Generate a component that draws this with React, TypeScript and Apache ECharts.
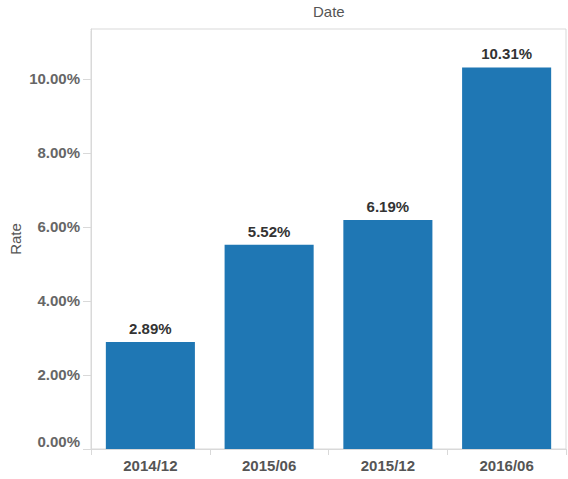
import { useEffect, useRef } from 'react'
import * as echarts from 'echarts'

const categories = ['2014/12', '2015/06', '2015/12', '2016/06']
const rates = [2.89, 5.52, 6.19, 10.31]
const yTicks = [0, 2, 4, 6, 8, 10]
const yMax = 11.35

const FONT = '"Liberation Sans", Arial, sans-serif'
const GRID = '#d9d9d9'

export default function App() {
  const chartRef = useRef<HTMLDivElement>(null)

  useEffect(() => {
    if (!chartRef.current) return
    const chart = echarts.init(chartRef.current, null, { renderer: 'svg' })

    const option = {
      animation: false,
      textStyle: { fontFamily: FONT },
      grid: {
        left: 91,
        top: 29,
        right: 2,
        bottom: 30,
        containLabel: false,
        outerBoundsMode: 'none',
        show: true,
        borderColor: GRID,
        borderWidth: 1,
      },
      graphic: [
        {
          type: 'text',
          left: 313,
          top: 4,
          style: { text: 'Date', fill: '#555', font: `15px ${FONT}` },
        },
        {
          // hide the extra tick that ECharts puts at the axis max
          type: 'rect',
          shape: { x: 80, y: 27, width: 10.5, height: 4 },
          style: { fill: '#fff' },
          z: 100,
        },
      ],
      xAxis: {
        type: 'category',
        data: categories,
        axisLine: { show: true, lineStyle: { color: GRID, width: 1 } },
        axisTick: { show: true, length: 6, lineStyle: { color: GRID } },
        axisLabel: {
          color: '#555',
          fontWeight: 'bold',
          fontSize: 15,
          margin: 9,
          fontFamily: FONT,
        },
      },
      yAxis: {
        type: 'value',
        min: 0,
        max: yMax,
        interval: 2,
        name: 'Rate',
        nameLocation: 'middle',
        nameGap: 68,
        nameMoveOverlap: false,
        nameTextStyle: { color: '#555', fontSize: 15, fontFamily: FONT },
        splitLine: { show: false },
        axisLine: { show: true, lineStyle: { color: GRID, width: 1 } },
        axisTick: { show: true, length: 8, lineStyle: { color: GRID } },
        axisLabel: {
          color: '#666',
          fontWeight: 'bold',
          fontSize: 15,
          margin: 11,
          fontFamily: FONT,
          verticalAlignMinLabel: 'bottom',
          formatter: (v: number) =>
            yTicks.includes(Math.round(v * 100) / 100) ? `${v.toFixed(2)}%` : '',
        },
      },
      series: [
        {
          type: 'bar',
          data: rates,
          barCategoryGap: '25%',
          itemStyle: { color: '#1f77b4' },
          label: {
            show: true,
            position: 'top',
            distance: 6,
            color: '#333',
            fontWeight: 'bold',
            fontSize: 15,
            fontFamily: FONT,
            formatter: (p: { value: number }) => `${p.value.toFixed(2)}%`,
          },
        },
      ],
    }

    chart.setOption(option)

    return () => {
      chart.dispose()
    }
  }, [])

  return (
    <div
      ref={chartRef}
      style={{ position: 'fixed', left: 0, top: 0, width: '568px', height: '479px', background: '#fff' }}
    />
  )
}
